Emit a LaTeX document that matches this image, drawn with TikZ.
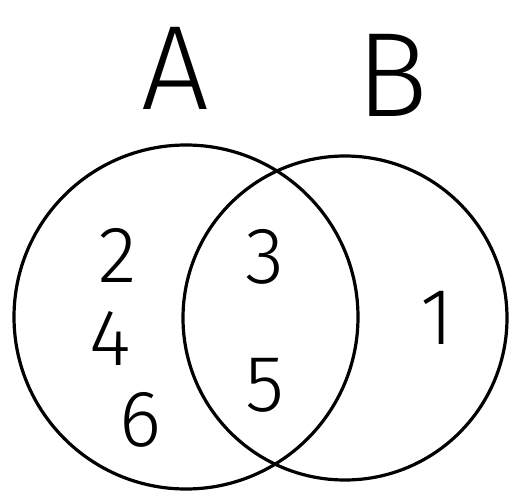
\documentclass[tikz,border=0pt]{standalone}
\usepackage{fontspec}
\setmainfont{Fira Sans}[UprightFont=* Light]
\begin{document}
\begin{tikzpicture}[x=1pt,y=-1pt,
  ring/.style={draw=black,line width=3.2pt},
  setlabel/.style={font=\fontsize{120}{120}\selectfont,inner sep=0pt},
  elem/.style={font=\fontsize{80}{80}\selectfont,inner sep=0pt}]
\useasboundingbox (0,0) rectangle (509,493);
\node[ring,circle,minimum size=344pt,inner sep=0pt] (cA) at (186,317) {};
\node[ring,circle,minimum size=324pt,inner sep=0pt] (cB) at (345,318) {};
\node[setlabel] (lA) at (175,68) {A};
\node[setlabel] (lB) at (392,75) {B};
\node[elem] (n2) at (118,255) {2};
\node[elem] (n4) at (110,338) {4};
\node[elem] (n6) at (140,420) {6};
\node[elem] (n3) at (265,257) {3};
\node[elem] (n5) at (265,385) {5};
\node[elem] (n1) at (437,318) {1};
\end{tikzpicture}
\end{document}
